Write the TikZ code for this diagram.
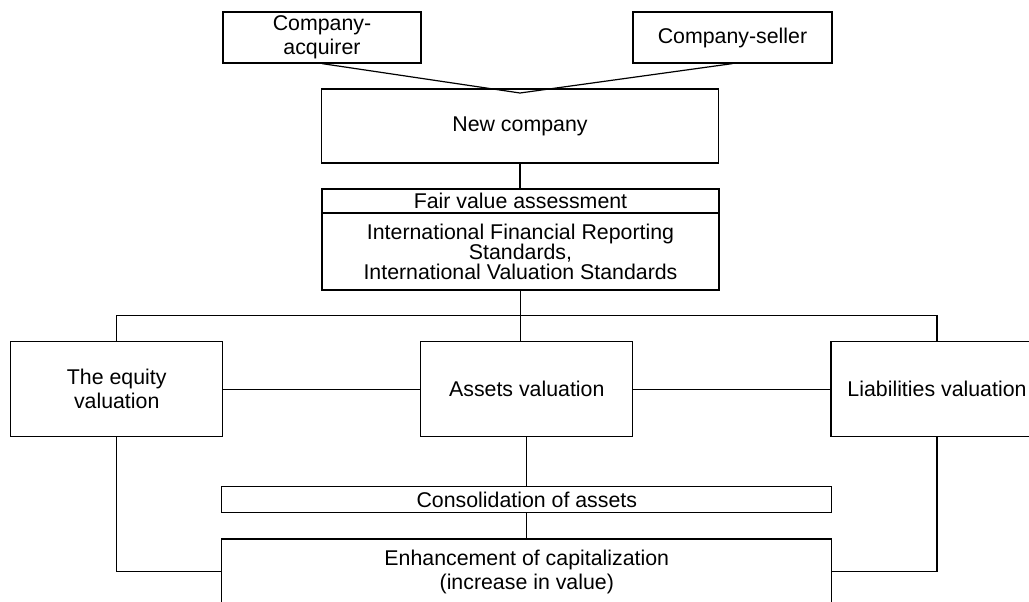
\documentclass[tikz,border=0pt]{standalone}
\usepackage{fontspec}
\setmainfont{Liberation Sans}

\begin{document}
\begin{tikzpicture}[x=0.75pt,y=-0.75pt,
    box/.style={draw, line width=0.9pt, inner sep=0pt, align=center,
        font=\fontsize{16}{18}\selectfont},
    link/.style={line width=0.9pt}]
    \path[use as bounding box, clip] (0,0) rectangle (1029,601);
    \node[box, minimum width=148.5pt, minimum height=38.25pt] (acq) at (322,37.5) {Company-\\acquirer};
    \node[box, minimum width=149.25pt, minimum height=38.25pt] (sel) at (732.5,37.5) {Company-seller};
    \node[box, minimum width=297.75pt, minimum height=55.5pt] (new) at (520,126) {New company};
    \node[box, minimum width=297.75pt, minimum height=18pt] (fairtop) at (520.5,201) {Fair value assessment};
    \node[box, minimum width=297.75pt, minimum height=57.75pt, font=\fontsize{16}{15}\selectfont]
        (fairstd) at (520.5,251.5)
        {International Financial Reporting\\Standards,\\International Valuation Standards};
    \node[box, minimum width=159pt, minimum height=71.25pt] (equity) at (116.7,389.2) {The equity\\valuation};
    \node[box, minimum width=159pt, minimum height=71.25pt] (assets) at (526.8,389.2) {Assets valuation};
    \node[box, minimum width=159pt, minimum height=71.25pt] (liab) at (937,389.2) {Liabilities valuation};
    \node[box, minimum width=457.5pt, minimum height=19.5pt] (consol) at (526.8,499.7) {Consolidation of assets};
    \node[box, minimum width=457.5pt, minimum height=48.75pt] (enh) at (526.8,571.5)
        {Enhancement of capitalization\\(increase in value)};
    \coordinate (meet) at (520,93);
    \coordinate (bus) at (520,315.7);
    \draw[link] (acq.south) -- (meet) -- (sel.south);
    \draw[link] (new.south) -- (new.south |- fairtop.north);
    \draw[link] (fairstd.south) -- (fairstd.south |- assets.north);
    \draw[link] (equity.north) |- (bus) -| (liab.north);
    \draw[link] (equity.east) -- (assets.west);
    \draw[link] (assets.east) -- (liab.west);
    \draw[link] (assets.south) -- (consol.north);
    \draw[link] (consol.south) -- (enh.north);
    \draw[link] (equity.south) |- (enh.west);
    \draw[link] (liab.south) |- (enh.east);
\end{tikzpicture}
\end{document}
